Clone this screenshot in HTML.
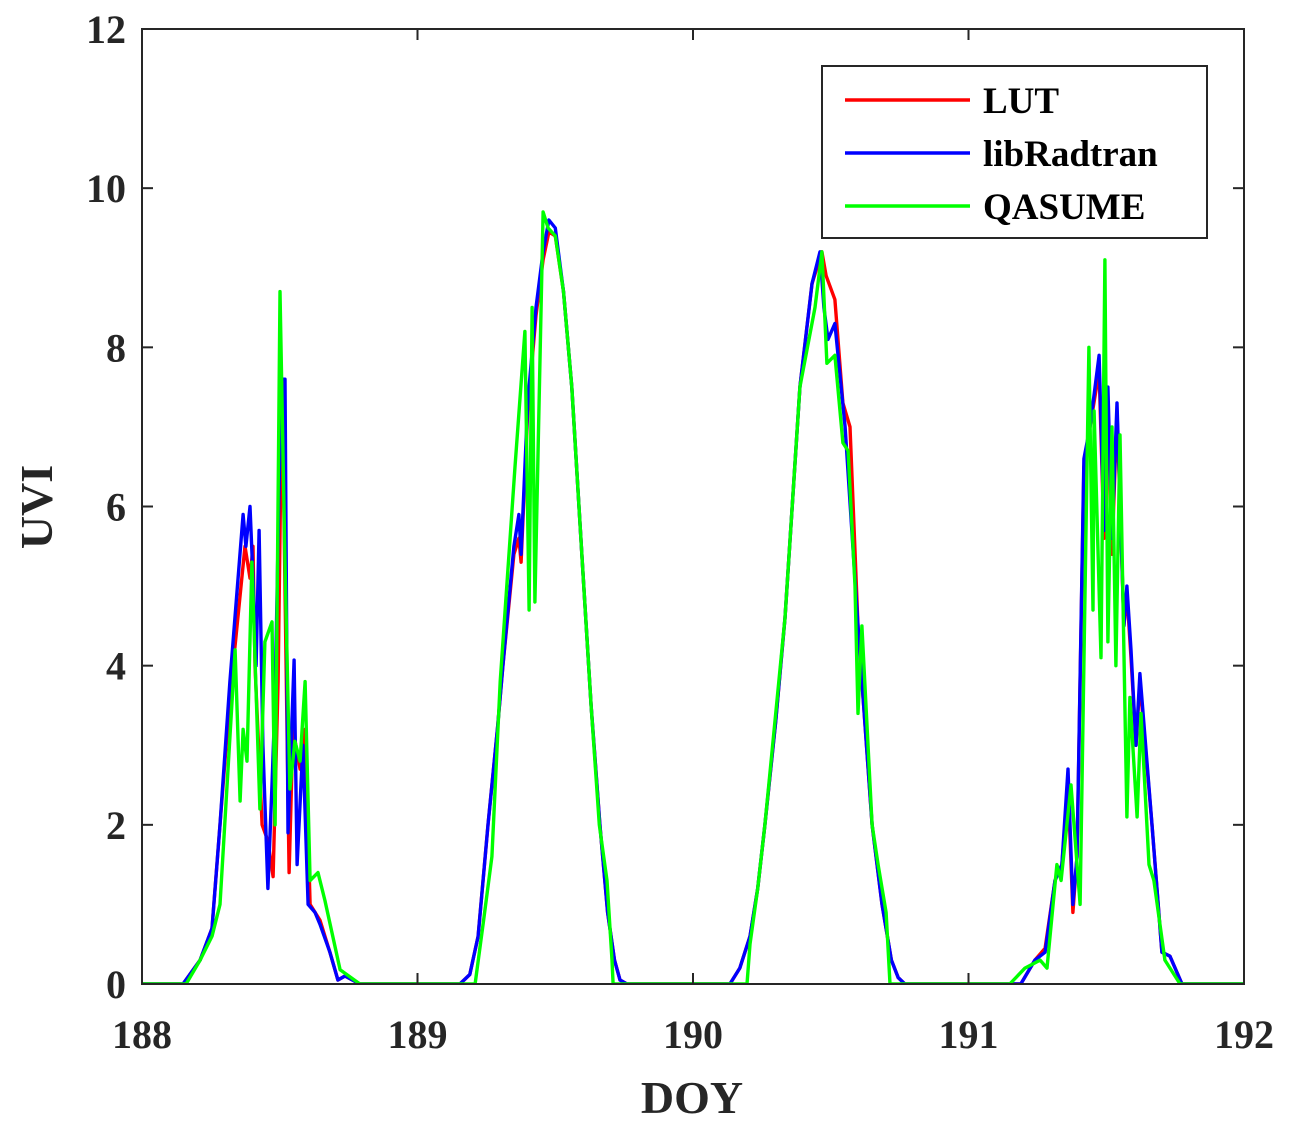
<!DOCTYPE html>
<html><head><meta charset="utf-8"><style>
html,body{margin:0;padding:0;background:#fff;}
svg{display:block;font-family:"Liberation Serif",serif;font-weight:bold;}
</style></head><body>
<svg id="chart" width="1293" height="1127" viewBox="0 0 1293 1127"></svg>
<script>
const xTicks=[188,189,190,191,192];
const yTicks=[0,2,4,6,8,10,12];
const seriesNames=["LUT","libRadtran","QASUME"];
const lutDoy=[188,188.149,188.211,188.254,188.283,188.319,188.374,188.392,188.403,188.410,188.436,188.457,188.476,188.494,188.508,188.523,188.534,188.548,188.574,188.592,188.610,188.646,188.682,188.711,188.737,188.791,
189.154,189.19,189.22,189.256,189.29,189.31,189.35,189.368,189.376,189.40,189.43,189.456,189.477,189.50,189.53,189.56,189.60,189.63,189.662,189.69,189.715,189.735,189.76,
190.134,190.17,190.207,190.235,190.261,190.30,190.334,190.36,190.388,190.432,190.468,190.483,190.515,190.544,190.570,190.599,190.65,190.686,190.72,190.745,190.769,
191.19,191.241,191.278,191.314,191.339,191.361,191.379,191.394,191.419,191.441,191.474,191.492,191.506,191.521,191.539,191.564,191.575,191.590,191.608,191.622,191.666,191.702,191.731,191.775,192];
const lutUvi=[0,0,0.3,0.7,2.0,3.6,5.5,5.1,5.5,4.0,2.0,1.8,1.35,3.8,7.6,4.0,1.4,3.2,2.7,3.2,1.0,0.8,0.4,0.05,0.1,0,
0,0.12,0.6,2,3.2,4,5.4,5.6,5.3,7.2,8.4,9.1,9.45,9.4,8.7,7.5,5.2,3.5,2,0.9,0.3,0.05,0,
0,0.2,0.6,1.2,2,3.3,4.6,6,7.5,8.8,9.2,8.9,8.6,7.3,7.0,4.5,2,1,0.3,0.08,0,
0,0.3,0.45,1.3,1.5,2.5,0.9,1.6,6.5,7.0,7.7,5.6,7.3,5.4,7.2,4.5,4.9,4.1,3.0,3.8,2.0,0.4,0.35,0,0];
const libDoy=[188,188.149,188.211,188.254,188.283,188.319,188.367,188.377,188.392,188.403,188.414,188.425,188.439,188.457,188.472,188.483,188.505,188.519,188.530,188.552,188.563,188.584,188.603,188.628,188.646,188.682,188.711,188.737,188.791,
189.154,189.19,189.22,189.256,189.29,189.31,189.35,189.368,189.376,189.40,189.43,189.456,189.477,189.50,189.53,189.56,189.60,189.63,189.662,189.69,189.715,189.735,189.76,
190.134,190.17,190.207,190.235,190.261,190.30,190.334,190.36,190.388,190.432,190.461,190.475,190.490,190.515,190.552,190.599,190.65,190.686,190.72,190.745,190.769,
191.19,191.241,191.278,191.314,191.339,191.361,191.379,191.394,191.419,191.441,191.474,191.492,191.506,191.521,191.539,191.564,191.575,191.590,191.608,191.622,191.666,191.702,191.731,191.775,192];
const libUvi=[0,0,0.3,0.7,2.0,3.8,5.9,5.5,6.0,5.1,4.0,5.7,3.0,1.2,2.5,3.6,7.6,7.6,1.9,4.07,1.5,3.0,1.0,0.9,0.75,0.4,0.05,0.1,0,
0,0.12,0.6,2,3.2,4,5.5,5.9,5.4,7.3,8.5,9.2,9.6,9.5,8.7,7.5,5.2,3.5,2,0.9,0.3,0.05,0,
0,0.2,0.6,1.2,2,3.3,4.6,6,7.5,8.8,9.2,8.5,8.1,8.3,7.0,4.5,2,1,0.3,0.08,0,
0,0.3,0.4,1.3,1.5,2.7,1.0,1.6,6.6,7.0,7.9,5.7,7.5,5.6,7.3,4.5,5.0,4.2,3.0,3.9,2.0,0.4,0.35,0,0];
const qasDoy=[188,188.16,188.211,188.254,188.283,188.338,188.356,188.367,188.381,188.399,188.428,188.446,188.472,188.483,188.501,188.519,188.537,188.555,188.574,188.592,188.610,188.639,188.664,188.719,188.791,
189.209,189.24,189.27,189.30,189.354,189.39,189.405,189.416,189.426,189.456,189.474,189.50,189.53,189.56,189.60,189.63,189.66,189.688,189.706,189.71,
190.196,190.207,190.235,190.261,190.334,190.388,190.443,190.468,190.486,190.515,190.544,190.563,190.588,190.599,190.613,190.65,190.672,190.701,190.715,
191.15,191.205,191.260,191.285,191.321,191.336,191.372,191.405,191.437,191.452,191.456,191.481,191.495,191.506,191.521,191.535,191.550,191.575,191.586,191.612,191.626,191.655,191.673,191.713,191.768,192];
const qasUvi=[0,0,0.3,0.6,1.0,4.2,2.3,3.2,2.8,5.3,2.2,4.3,4.55,2.0,8.7,5.3,2.45,3.05,2.8,3.8,1.3,1.4,1.05,0.18,0,
0,0.8,1.6,3.8,6.5,8.2,4.7,8.5,4.8,9.7,9.5,9.4,8.7,7.5,5.2,3.5,2,1.3,0.3,0,
0,0.5,1.2,2,4.6,7.5,8.5,9.2,7.8,7.9,6.8,6.7,5.0,3.4,4.5,2,1.5,0.9,0,
0,0.2,0.3,0.2,1.5,1.3,2.5,1.0,8.0,4.7,7.2,4.1,9.1,4.3,7.0,4.0,6.9,2.1,3.6,2.1,3.4,1.5,1.3,0.3,0,0];

const NS="http://www.w3.org/2000/svg";
const svg=document.getElementById('chart');
const L=142,R=1244,T=29,B=984;
const xs=d=>L+(d-188)/4*(R-L);
const ys=v=>B-v/12*(B-T);
function mk(tag,attrs,parent){const e=document.createElementNS(NS,tag);for(const k in attrs)e.setAttribute(k,attrs[k]);(parent||svg).appendChild(e);return e;}

const plot=mk('g',{});


const clip=mk('clipPath',{id:'c'});mk('rect',{x:L,y:T,width:R-L,height:B-T},clip);
const series=[[lutDoy,lutUvi,'#ff0000','lut-line'],[libDoy,libUvi,'#0000ff','libradtran-line'],[qasDoy,qasUvi,'#00ff00','qasume-line']];
series.forEach(s=>{
  const p=mk('polyline',{points:s[0].map((d,i)=>xs(d).toFixed(1)+','+ys(s[1][i]).toFixed(1)).join(' '),fill:'none',stroke:s[2],'stroke-width':3.4,'stroke-linejoin':'round','clip-path':'url(#c)'},plot);
  
  
});
const ax=mk('g',{});


mk('rect',{x:L,y:T,width:R-L,height:B-T,fill:'none',stroke:'#262626','stroke-width':2},ax);
xTicks.forEach(t=>{
  const x=xs(t);
  mk('line',{x1:x,y1:B,x2:x,y2:B-11,stroke:'#262626','stroke-width':2},ax);
  mk('line',{x1:x,y1:T,x2:x,y2:T+11,stroke:'#262626','stroke-width':2},ax);
  const tx=mk('text',{x:x,y:1048,'text-anchor':'middle','font-size':40,fill:'#262626'},ax);
  tx.textContent=t;
  
  
});
yTicks.forEach(t=>{
  const y=ys(t);
  mk('line',{x1:L,y1:y,x2:L+11,y2:y,stroke:'#262626','stroke-width':2},ax);
  mk('line',{x1:R,y1:y,x2:R-11,y2:y,stroke:'#262626','stroke-width':2},ax);
  const tx=mk('text',{x:126,y:y+14,'text-anchor':'end','font-size':40,fill:'#262626'},ax);
  tx.textContent=t;
  
  
});
const xt=mk('text',{x:692,y:1113,'text-anchor':'middle','font-size':46,fill:'#262626'});
xt.textContent='DOY';


const yt=mk('text',{x:0,y:0,'text-anchor':'middle','font-size':46,fill:'#262626',transform:'translate(52,507) rotate(-90)'});
yt.textContent='UVI';



const lg=mk('g',{});


mk('rect',{x:822,y:66,width:385,height:172,fill:'#fff',stroke:'#262626','stroke-width':2},lg);
series.forEach((s,i)=>{
  const y=100+i*53;
  const e=mk('g',{},lg);
  
  
  mk('line',{x1:845,y1:y,x2:970,y2:y,stroke:s[2],'stroke-width':3.4},e);
  const t=mk('text',{x:983,y:y+13,'font-size':37,fill:'#000'},e);
  t.textContent=seriesNames[i];
});
</script>
</body></html>
